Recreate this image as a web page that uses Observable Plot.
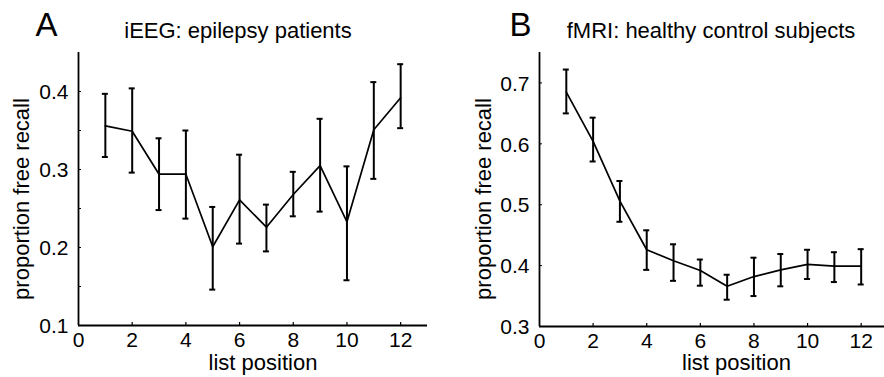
<!DOCTYPE html>
<html>
<head>
<meta charset="utf-8">
<script src="https://cdn.jsdelivr.net/npm/d3@7"></script>
<script src="https://cdn.jsdelivr.net/npm/@observablehq/plot@0.6"></script>
<style>
  html, body { margin: 0; padding: 0; background: #fff; }
  #wrap { display: flex; width: 884px; height: 377px; overflow: hidden; background: #fff; }
  #wrap svg { flex: none; }
</style>
</head>
<body>
<div id="wrap"></div>
<script>
// ---- data ----
const positions = [1, 2, 3, 4, 5, 6, 7, 8, 9, 10, 11, 12];

// Panel A: iEEG epilepsy patients
const meanA = [0.356, 0.349, 0.294, 0.294, 0.201, 0.261, 0.226, 0.268, 0.305, 0.233, 0.351, 0.392];
const lowA  = [0.316, 0.296, 0.248, 0.237, 0.146, 0.205, 0.195, 0.240, 0.246, 0.158, 0.288, 0.353];
const highA = [0.397, 0.404, 0.340, 0.350, 0.252, 0.319, 0.255, 0.297, 0.365, 0.304, 0.412, 0.435];

// Panel B: fMRI healthy control subjects
const meanB = [0.685, 0.604, 0.506, 0.426, 0.408, 0.392, 0.366, 0.382, 0.393, 0.402, 0.399, 0.399];
const lowB  = [0.650, 0.571, 0.472, 0.393, 0.375, 0.367, 0.344, 0.350, 0.366, 0.378, 0.373, 0.369];
const highB = [0.722, 0.643, 0.539, 0.458, 0.435, 0.410, 0.385, 0.413, 0.419, 0.426, 0.422, 0.427];

const xTickLabels = [0, 2, 4, 6, 8, 10, 12];
const xTickMarks = [2, 4, 6, 8, 10, 12];
const yTickLabelsA = [0.1, 0.2, 0.3, 0.4];
const yTickMarksA = [0.15, 0.2, 0.25, 0.3, 0.35, 0.4];
const yTickLabelsB = [0.3, 0.4, 0.5, 0.6, 0.7];
const yTickMarksB = [0.4, 0.5, 0.6, 0.7];

const titleA = "iEEG: epilepsy patients";
const titleB = "fMRI: healthy control subjects";
const letterA = "A";
const letterB = "B";
const xLabel = "list position";
const yLabel = "proportion free recall";

// ---- drawing ----
const FONT = "Liberation Sans, Arial, Helvetica, sans-serif";

function panel(cfg) {
  const rows = positions.map((p, i) => ({pos: p, mean: cfg.mean[i], lo: cfg.low[i], hi: cfg.high[i]}));
  const W = 442, H = 377;
  const plotW = W - cfg.ml - cfg.mr;
  const plotH = H - cfg.mt - cfg.mb;
  const fmtY = d3.format(".1f");
  const fmtX = d3.format("d");
  return Plot.plot({
    width: W,
    height: H,
    marginLeft: cfg.ml,
    marginRight: cfg.mr,
    marginTop: cfg.mt,
    marginBottom: cfg.mb,
    style: {fontFamily: FONT, fontSize: "22px", color: "#000", background: "#fff", overflow: "visible"},
    x: {domain: cfg.xDomain, axis: null},
    y: {domain: cfg.yDomain, axis: null},
    marks: [
      // axis lines
      Plot.ruleX([cfg.xDomain[0]], {stroke: "#000", strokeWidth: 1.8}),
      Plot.ruleY([cfg.yDomain[0]], {stroke: "#000", strokeWidth: 1.8}),
      // inward tick marks
      Plot.tickY(cfg.yMarks, {y: d => d, stroke: "#000", strokeWidth: 1, insetRight: plotW - 3}),
      Plot.tickX(xTickMarks, {x: d => d, stroke: "#000", strokeWidth: 1.2, insetTop: plotH - 3}),
      // tick labels (as text marks placed by the scales)
      Plot.text(cfg.yLabels, {y: d => d, frameAnchor: "left", text: d => fmtY(d), textAnchor: "end", lineAnchor: "middle", dx: -10, dy: 1, fontSize: 21, fill: "#000"}),
      Plot.text(xTickLabels, {x: d => d, frameAnchor: "bottom", text: d => fmtX(d), textAnchor: "middle", lineAnchor: "top", dy: 7, fontSize: 21, fill: "#000"}),
      // error bars
      Plot.ruleX(rows, {x: "pos", y1: "lo", y2: "hi", stroke: "#000", strokeWidth: 2}),
      Plot.ruleY(rows, {y: "hi", x1: "pos", x2: "pos", insetLeft: -3, insetRight: -3, stroke: "#000", strokeWidth: 2}),
      Plot.ruleY(rows, {y: "lo", x1: "pos", x2: "pos", insetLeft: -3, insetRight: -3, stroke: "#000", strokeWidth: 2}),
      // mean line
      Plot.lineY(rows, {x: "pos", y: "mean", stroke: "#000", strokeWidth: 1.7}),
      // texts
      Plot.text([cfg.letter], {frameAnchor: "top-left", textAnchor: "start", lineAnchor: "middle", dx: cfg.letterDx, dy: -27, fontSize: 33, fill: "#000"}),
      Plot.text([cfg.title], {frameAnchor: "top", textAnchor: "middle", lineAnchor: "middle", dx: cfg.titleDx, dy: -22, fontSize: 22, fill: "#000"}),
      Plot.text([xLabel], {frameAnchor: "bottom", textAnchor: "middle", lineAnchor: "middle", dx: cfg.xlDx, dy: cfg.xlDy, fontSize: 22, fill: "#000"}),
      Plot.text([yLabel], {frameAnchor: "left", textAnchor: "middle", lineAnchor: "middle", rotate: -90, dx: cfg.ylDx, dy: cfg.ylDy, fontSize: 22, fill: "#000"})
    ]
  });
}

const wrap = document.getElementById("wrap");
wrap.appendChild(panel({
  mean: meanA, low: lowA, high: highA,
  ml: 78, mr: 15, mt: 52, mb: 52,
  xDomain: [0, 13], yDomain: [0.1, 0.45],
  yMarks: yTickMarksA, yLabels: yTickLabelsA,
  letter: letterA, title: titleA,
  letterDx: -43, titleDx: -15,
  xlDx: 10, xlDy: 37, ylDx: -56.5, ylDy: 10
}));
wrap.appendChild(panel({
  mean: meanB, low: lowB, high: highB,
  ml: 97, mr: 0, mt: 52, mb: 51,
  xDomain: [0, 12.87], yDomain: [0.3, 0.75],
  yMarks: yTickMarksB, yLabels: yTickLabelsB,
  letter: letterB, title: titleB,
  letterDx: -30, titleDx: -1,
  xlDx: 24.5, xlDy: 36, ylDx: -55.5, ylDy: 9.5
}));
</script>
</body>
</html>
